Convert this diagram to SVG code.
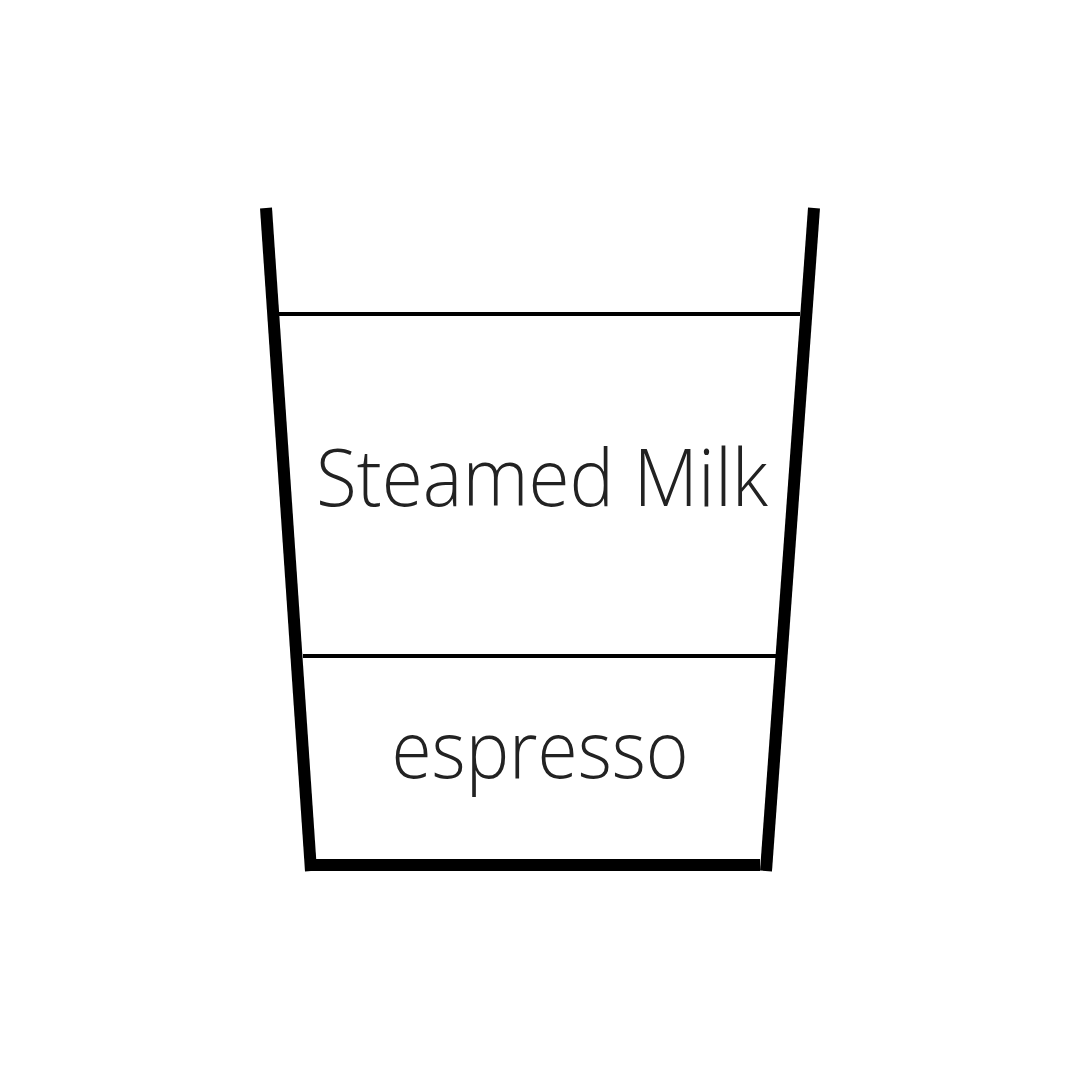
<svg xmlns="http://www.w3.org/2000/svg" width="1080" height="1080" viewBox="0 0 1080 1080">
<style>
.wall{stroke:#000;stroke-width:12;fill:none;stroke-linecap:butt}
.layer{stroke:#000;stroke-width:4;fill:none}
.lbl{font-family:"Open Sans","Lato","Liberation Sans",sans-serif;font-weight:300;fill:#222;text-anchor:middle}
</style>
<rect width="1080" height="1080" fill="#fff"/>
<g id="glass">
<line class="wall" x1="266" y1="208" x2="311" y2="871"/>
<line class="wall" x1="814" y1="208" x2="766" y2="871"/>
<line class="wall" x1="305" y1="865" x2="760" y2="865"/>
</g>
<g id="layers">
<line class="layer" x1="279" y1="314" x2="800" y2="314"/>
<line class="layer" x1="303" y1="656" x2="776" y2="656"/>
</g>
<g id="steamed-milk">
<text class="lbl" x="542" y="506" font-size="79" textLength="452" lengthAdjust="spacingAndGlyphs">Steamed Milk</text>
</g>
<g id="espresso">
<text class="lbl" x="540" y="778" font-size="80" textLength="297" lengthAdjust="spacingAndGlyphs">espresso</text>
</g>
</svg>
